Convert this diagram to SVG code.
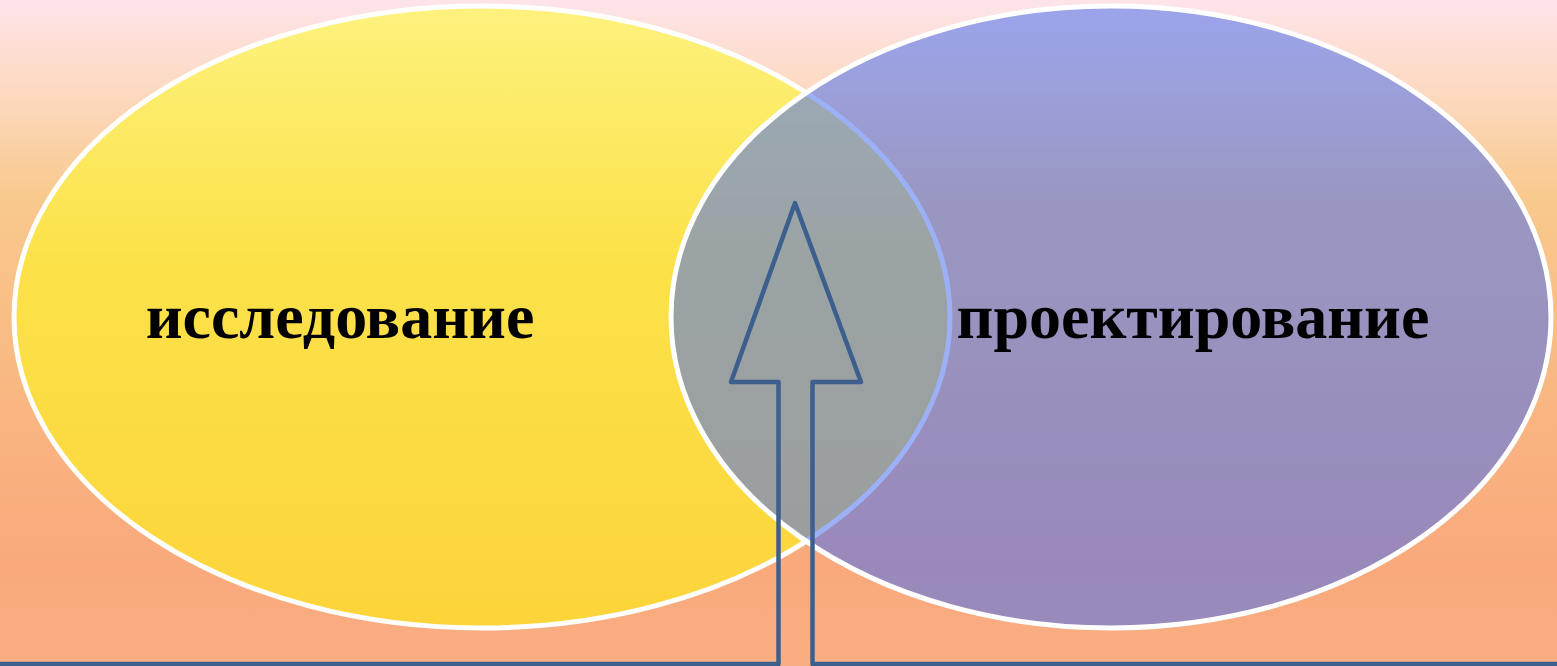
<svg xmlns="http://www.w3.org/2000/svg" width="1557" height="666" viewBox="0 0 1557 666">
<defs>
<linearGradient id="bg" x1="0" y1="0" x2="0" y2="666" gradientUnits="userSpaceOnUse">
<stop offset="0" stop-color="#fee4ea"/>
<stop offset="0.15" stop-color="#fcd8bc"/>
<stop offset="0.3" stop-color="#f9c98c"/>
<stop offset="0.55" stop-color="#f9b983"/>
<stop offset="0.85" stop-color="#f9a97c"/>
<stop offset="1" stop-color="#f9ae82"/>
</linearGradient>
<linearGradient id="yel" x1="0" y1="6" x2="0" y2="628" gradientUnits="userSpaceOnUse">
<stop offset="0" stop-color="#fdf27e"/>
<stop offset="0.4" stop-color="#fce24a"/>
<stop offset="1" stop-color="#fcd43a"/>
</linearGradient>
<style>
.ell{stroke:#ffffff;stroke-width:5}
.lbl{font-family:"Liberation Serif","Times New Roman",serif;font-weight:bold;font-size:64px;fill:#000000;text-anchor:middle}
.arrow{fill:none;stroke:#3c5f8d;stroke-width:4.5;stroke-linejoin:round}
</style>
</defs>
<rect x="0" y="0" width="1557" height="666" fill="url(#bg)"/>
<g id="research">
<ellipse class="ell" cx="482" cy="317" rx="468" ry="311" fill="url(#yel)"/>
<text class="lbl" x="340" y="338">исследование</text>
</g>
<g id="design">
<ellipse class="ell" cx="1111" cy="317" rx="440" ry="311" fill="#4a70ee" fill-opacity="0.55"/>
<text class="lbl" x="1193" y="338">проектирование</text>
</g>
<g id="connectors">
<polyline class="arrow" points="0,664 778.5,664 778.5,382 731,382 795,203 861,382 812.5,382 812.5,664 1557,664"/>
</g>
</svg>
